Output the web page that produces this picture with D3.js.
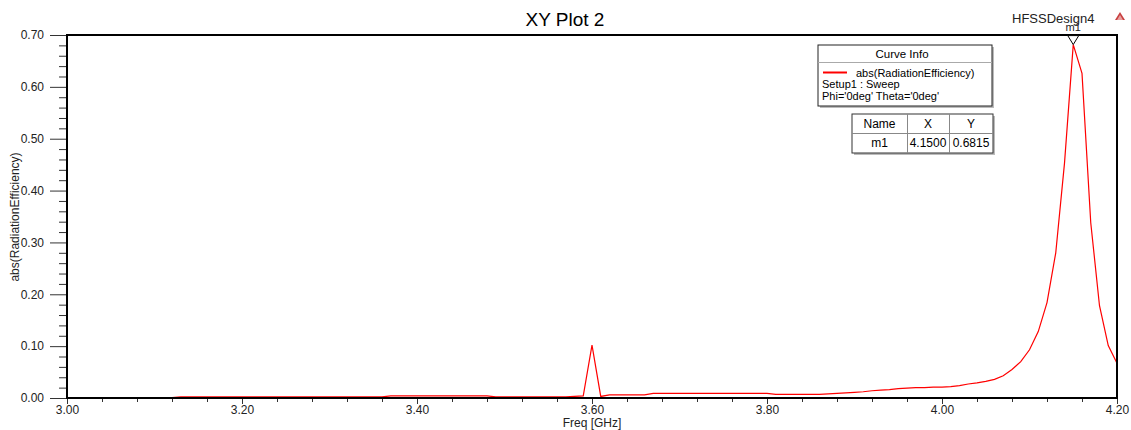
<!DOCTYPE html>
<html>
<head>
<meta charset="utf-8">
<script src="https://cdn.jsdelivr.net/npm/d3@7"></script>
<style>
  body { margin: 0; background: #fff; }
  svg { font-family: "Liberation Sans", Arial, sans-serif; }
</style>
</head>
<body>
<div id="chart"></div>
<script>
// frequency samples (GHz)
const freq = [
  3.00, 3.01, 3.02, 3.03, 3.04, 3.05, 3.06, 3.07, 3.08, 3.09,
  3.10, 3.11, 3.12, 3.13, 3.14, 3.15, 3.16, 3.17, 3.18, 3.19,
  3.20, 3.21, 3.22, 3.23, 3.24, 3.25, 3.26, 3.27, 3.28, 3.29,
  3.30, 3.31, 3.32, 3.33, 3.34, 3.35, 3.36, 3.37, 3.38, 3.39,
  3.40, 3.41, 3.42, 3.43, 3.44, 3.45, 3.46, 3.47, 3.48, 3.49,
  3.50, 3.51, 3.52, 3.53, 3.54, 3.55, 3.56, 3.57, 3.58, 3.59,
  3.60, 3.61, 3.62, 3.63, 3.64, 3.65, 3.66, 3.67, 3.68, 3.69,
  3.70, 3.71, 3.72, 3.73, 3.74, 3.75, 3.76, 3.77, 3.78, 3.79,
  3.80, 3.81, 3.82, 3.83, 3.84, 3.85, 3.86, 3.87, 3.88, 3.89,
  3.90, 3.91, 3.92, 3.93, 3.94, 3.95, 3.96, 3.97, 3.98, 3.99,
  4.00, 4.01, 4.02, 4.03, 4.04, 4.05, 4.06, 4.07, 4.08, 4.09,
  4.10, 4.11, 4.12, 4.13, 4.14, 4.15, 4.16, 4.17, 4.18, 4.19,
  4.20
];
// abs(RadiationEfficiency)
const radEff = [
  0.001, 0.001, 0.001, 0.001, 0.001, 0.001, 0.001, 0.001, 0.001, 0.001,
  0.001, 0.001, 0.001, 0.002, 0.002, 0.002, 0.002, 0.002, 0.002, 0.002,
  0.002, 0.002, 0.002, 0.002, 0.002, 0.002, 0.002, 0.002, 0.002, 0.002,
  0.002, 0.002, 0.002, 0.002, 0.002, 0.002, 0.002, 0.004, 0.004, 0.004,
  0.004, 0.004, 0.004, 0.004, 0.004, 0.004, 0.004, 0.004, 0.004, 0.002,
  0.002, 0.002, 0.002, 0.002, 0.002, 0.002, 0.002, 0.002, 0.003, 0.004,
  0.102, 0.003, 0.006, 0.006, 0.006, 0.006, 0.006, 0.009, 0.009, 0.009,
  0.009, 0.009, 0.009, 0.009, 0.009, 0.009, 0.009, 0.009, 0.009, 0.009,
  0.009, 0.007, 0.007, 0.007, 0.007, 0.007, 0.007, 0.008, 0.009, 0.010,
  0.011, 0.012, 0.014, 0.015, 0.016, 0.018, 0.019, 0.020, 0.020, 0.021,
  0.021, 0.022, 0.024, 0.027, 0.029, 0.032, 0.036, 0.043, 0.055, 0.070,
  0.093, 0.128, 0.184, 0.280, 0.453, 0.6815, 0.626, 0.338, 0.178, 0.101,
  0.067
];

const xTicks = [3.00, 3.20, 3.40, 3.60, 3.80, 4.00, 4.20];
const yTicks = [0.00, 0.10, 0.20, 0.30, 0.40, 0.50, 0.60, 0.70];

const legendLines = ["abs(RadiationEfficiency)", "Setup1 : Sweep", "Phi='0deg' Theta='0deg'"];
const markerHeader = ["Name", "X", "Y"];
const markerRow = ["m1", "4.1500", "0.6815"];

const W = 1131, H = 430;
const margin = {top: 35, right: 14, bottom: 32, left: 67};
const width = W - margin.left - margin.right,
      height = H - margin.top - margin.bottom;

const svg = d3.select("#chart").append("svg")
    .attr("width", W).attr("height", H);

const g = svg.append("g")
    .attr("transform", "translate(" + margin.left + "," + margin.top + ")");

const x = d3.scaleLinear().domain([3.0, 4.2]).range([0, width]);
const y = d3.scaleLinear().domain([0, 0.7]).range([height, 0]);

// minor ticks
const yMinor = d3.range(0, 0.701, 0.02).filter(v => Math.abs(v * 10 - Math.round(v * 10)) > 1e-6);
const xMinor = d3.range(3.0, 4.201, 0.04).filter(v => Math.abs(v * 5 - Math.round(v * 5)) > 1e-6);

g.append("g")
    .attr("class", "axis")
    .call(d3.axisLeft(y).tickValues(yMinor).tickSize(8).tickFormat(""));
g.append("g")
    .attr("class", "axis")
    .call(d3.axisLeft(y).tickValues(yTicks).tickSize(17).tickPadding(6).tickFormat(d3.format(".2f")));
g.append("g")
    .attr("class", "axis")
    .attr("transform", "translate(0," + height + ")")
    .call(d3.axisBottom(x).tickValues(xMinor).tickSize(4).tickFormat(""));
g.append("g")
    .attr("class", "axis")
    .attr("transform", "translate(0," + height + ")")
    .call(d3.axisBottom(x).tickValues(xTicks).tickSize(6).tickPadding(1).tickFormat(d3.format(".2f")));

g.selectAll(".axis .domain").remove();
g.selectAll(".axis line").attr("stroke", "#333");
g.selectAll(".axis text").attr("fill", "#222").style("font-size", "12px");

// curve
const pts = freq.map((f, i) => [f, radEff[i]]);
g.append("path")
    .datum(pts)
    .attr("fill", "none")
    .attr("stroke", "#ff0000")
    .attr("stroke-width", 1.2)
    .attr("d", d3.line().x(d => x(d[0])).y(d => y(d[1])));

// frame
g.append("rect")
    .attr("x", 0).attr("y", 0)
    .attr("width", width).attr("height", height)
    .attr("fill", "none")
    .attr("stroke", "#000")
    .attr("stroke-width", 2);

// marker m1
const mx = x(4.15), my = y(0.6815);
g.append("path")
    .attr("d", "M" + mx + "," + my + "L" + (mx - 5.5) + "," + (my - 9) + "L" + (mx + 5.5) + "," + (my - 9) + "Z")
    .attr("fill", "#fff")
    .attr("stroke", "#000")
    .attr("stroke-width", 1);

// titles
svg.append("text")
    .attr("x", 565).attr("y", 26)
    .attr("text-anchor", "middle")
    .style("font-size", "19px")
    .text("XY Plot 2");

svg.append("text")
    .attr("x", 1012).attr("y", 23)
    .style("font-size", "13px")
    .attr("fill", "#222")
    .text("HFSSDesign4");

g.append("text")
    .attr("x", mx).attr("y", -4)
    .attr("text-anchor", "middle")
    .style("font-size", "11px")
    .attr("fill", "#222")
    .text("m1");

// small logo
const logo = svg.append("g").attr("transform", "translate(1120,12)");
logo.append("path").attr("d", "M0,0L5,8L-5,8Z").attr("fill", "#c84040");
logo.append("path").attr("d", "M0,3L3,8L-3,8Z").attr("fill", "#e8a0a0");

svg.append("text")
    .attr("transform", "translate(19,217) rotate(-90)")
    .attr("text-anchor", "middle")
    .style("font-size", "12px")
    .attr("fill", "#222")
    .text("abs(RadiationEfficiency)");

svg.append("text")
    .attr("x", 592).attr("y", 427)
    .attr("text-anchor", "middle")
    .style("font-size", "12px")
    .attr("fill", "#222")
    .text("Freq [GHz]");

// curve info legend
const lg = svg.append("g").attr("transform", "translate(818,45)");
lg.append("rect").attr("x", 2).attr("y", 2).attr("width", 174).attr("height", 61).attr("fill", "#bbb");
lg.append("rect").attr("width", 174).attr("height", 61).attr("fill", "#fff").attr("stroke", "#222");
lg.append("line").attr("x1", 0).attr("x2", 174).attr("y1", 17.5).attr("y2", 17.5).attr("stroke", "#aaa");
lg.append("text").attr("x", 84).attr("y", 13).attr("text-anchor", "middle")
    .style("font-size", "11.5px").text("Curve Info");
lg.append("line").attr("x1", 5).attr("x2", 29).attr("y1", 27.5).attr("y2", 27.5)
    .attr("stroke", "#ff0000").attr("stroke-width", 2);
lg.selectAll("text.entry")
    .data(legendLines)
    .join("text")
    .attr("class", "entry")
    .attr("x", (d, i) => i === 0 ? 38 : 4)
    .attr("y", (d, i) => 31.5 + i * 11.7)
    .style("font-size", "11px")
    .text(d => d);

// marker table
const colX = [0, 55, 97, 141];
const tb = svg.append("g").attr("transform", "translate(852,114)");
tb.append("rect").attr("x", 2).attr("y", 2).attr("width", 141).attr("height", 39).attr("fill", "#bbb");
tb.append("rect").attr("width", 141).attr("height", 39).attr("fill", "#fff").attr("stroke", "#333");
tb.append("line").attr("x1", 0).attr("x2", 141).attr("y1", 19.5).attr("y2", 19.5).attr("stroke", "#888");
[1, 2].forEach(i => tb.append("line")
    .attr("x1", colX[i] + 0.5).attr("x2", colX[i] + 0.5).attr("y1", 0).attr("y2", 39).attr("stroke", "#888"));
[markerHeader, markerRow].forEach((row, r) => {
  tb.selectAll("text.r" + r)
    .data(row)
    .join("text")
    .attr("class", "r" + r)
    .attr("x", (d, i) => (colX[i] + colX[i + 1]) / 2)
    .attr("y", 14 + r * 19)
    .attr("text-anchor", "middle")
    .style("font-size", "12px")
    .text(d => d);
});
</script>
</body>
</html>
